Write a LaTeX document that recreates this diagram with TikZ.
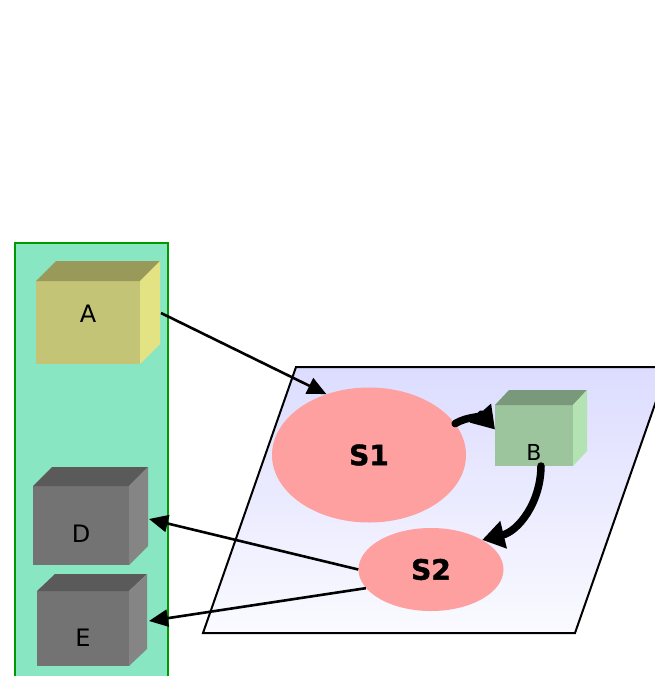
\documentclass[tikz,border=0pt]{standalone}
\usepackage{fontspec}
\setmainfont{DejaVu Sans}
\newfontfamily\statefont{DejaVu Sans}[BoldFont={* Bold}, BoldFeatures={FakeBold=1.6}]
\usetikzlibrary{shapes.geometric,arrows.meta}

\definecolor{panelfill}{HTML}{88E6C2}
\definecolor{panelline}{HTML}{009A00}
\definecolor{planetop}{HTML}{DCDCFF}
\definecolor{planebot}{HTML}{FAFAFF}
\definecolor{blobfill}{HTML}{FFA0A0}
\definecolor{olivefront}{HTML}{C4C476}
\definecolor{olivetop}{HTML}{99995A}
\definecolor{oliveside}{HTML}{E3E384}
\definecolor{grayfront}{HTML}{737373}
\definecolor{graytop}{HTML}{5A5A5A}
\definecolor{grayside}{HTML}{858585}
\definecolor{mintfront}{HTML}{9DC59D}
\definecolor{minttop}{HTML}{7A997A}
\definecolor{mintside}{HTML}{B3E3B3}

\newcommand\cubefont{\fontsize{24}{28}\selectfont}

\begin{document}
\begin{tikzpicture}[x=1pt, y=1pt,
  front/.style={inner sep=0pt, outer sep=0pt},
  blob/.style={ellipse, fill=blobfill, inner sep=0pt, font=\statefont\bfseries\fontsize{28}{33}\selectfont},
  thinarr/.style={line width=2.6pt, -{Triangle[length=19pt,width=17pt]}},
  thickarr/.style={line width=7.5pt, line cap=round, -{Triangle[length=22pt,width=27pt]}}]
\useasboundingbox (0,0) rectangle (654,-676);

% container on the left and the tilted plane
\draw[fill=panelfill, draw=panelline, line width=1.6pt] (15,-243) rectangle (168,-690);
\shadedraw[top color=planetop, bottom color=planebot, draw=black, line width=2pt]
  (296,-367) -- (668,-367) -- (575,-633) -- (203,-633) -- cycle;

% cubes: front face is the node, top and side are filled after
\node[front, fill=olivefront, minimum width=104pt, minimum height=83pt,
  label={[font=\cubefont, yshift=9pt]center:A}] (A) at (88,-322.5) {};
\fill[olivetop] (A.north west) -- ([shift={(20pt,20pt)}]A.north west) -- ([shift={(20pt,20pt)}]A.north east) -- (A.north east) -- cycle;
\fill[oliveside] (A.north east) -- ([shift={(20pt,20pt)}]A.north east) -- ([shift={(20pt,20pt)}]A.south east) -- (A.south east) -- cycle;

\node[front, fill=grayfront, minimum width=96pt, minimum height=79pt,
  label={[font=\cubefont, yshift=-8.5pt]center:D}] (D) at (81,-525.5) {};
\fill[graytop] (D.north west) -- ([shift={(19pt,19pt)}]D.north west) -- ([shift={(19pt,19pt)}]D.north east) -- (D.north east) -- cycle;
\fill[grayside] (D.north east) -- ([shift={(19pt,19pt)}]D.north east) -- ([shift={(19pt,19pt)}]D.south east) -- (D.south east) -- cycle;

\node[front, fill=grayfront, minimum width=92pt, minimum height=75pt,
  label={[font=\cubefont, yshift=-9pt]center:E}] (E) at (83,-628.5) {};
\fill[graytop] (E.north west) -- ([shift={(18pt,17pt)}]E.north west) -- ([shift={(18pt,17pt)}]E.north east) -- (E.north east) -- cycle;
\fill[grayside] (E.north east) -- ([shift={(18pt,17pt)}]E.north east) -- ([shift={(18pt,17pt)}]E.south east) -- (E.south east) -- cycle;

\node[front, fill=mintfront, minimum width=78pt, minimum height=61pt,
  label={[font=\fontsize{22}{26}\selectfont, yshift=-16.5pt]center:B}] (B) at (534,-435.5) {};
\fill[minttop] (B.north west) -- ([shift={(14pt,15pt)}]B.north west) -- ([shift={(14pt,15pt)}]B.north east) -- (B.north east) -- cycle;
\fill[mintside] (B.north east) -- ([shift={(14pt,15pt)}]B.north east) -- ([shift={(14pt,15pt)}]B.south east) -- (B.south east) -- cycle;

% states on the plane
\node[blob, minimum width=194pt, minimum height=135pt] (S1) at (369,-455) {S1};
\node[blob, minimum width=145pt, minimum height=83pt] (S2) at (431,-569.5) {S2};

% connectors
\draw[thinarr] ([shift={(21pt,9.5pt)}]A.east) -- (S1.125);
\draw[thickarr] (S1.20) to[bend left=40] ([yshift=6pt]B.west);
\draw[thickarr] ([xshift=7pt]B.south) to[bend left=38] (S2.30);
\draw[thinarr] (S2.west) -- ([shift={(20pt,6.5pt)}]D.east);
\draw[thinarr] (S2.196) -- ([shift={(20pt,7.5pt)}]E.east);
\end{tikzpicture}
\end{document}
